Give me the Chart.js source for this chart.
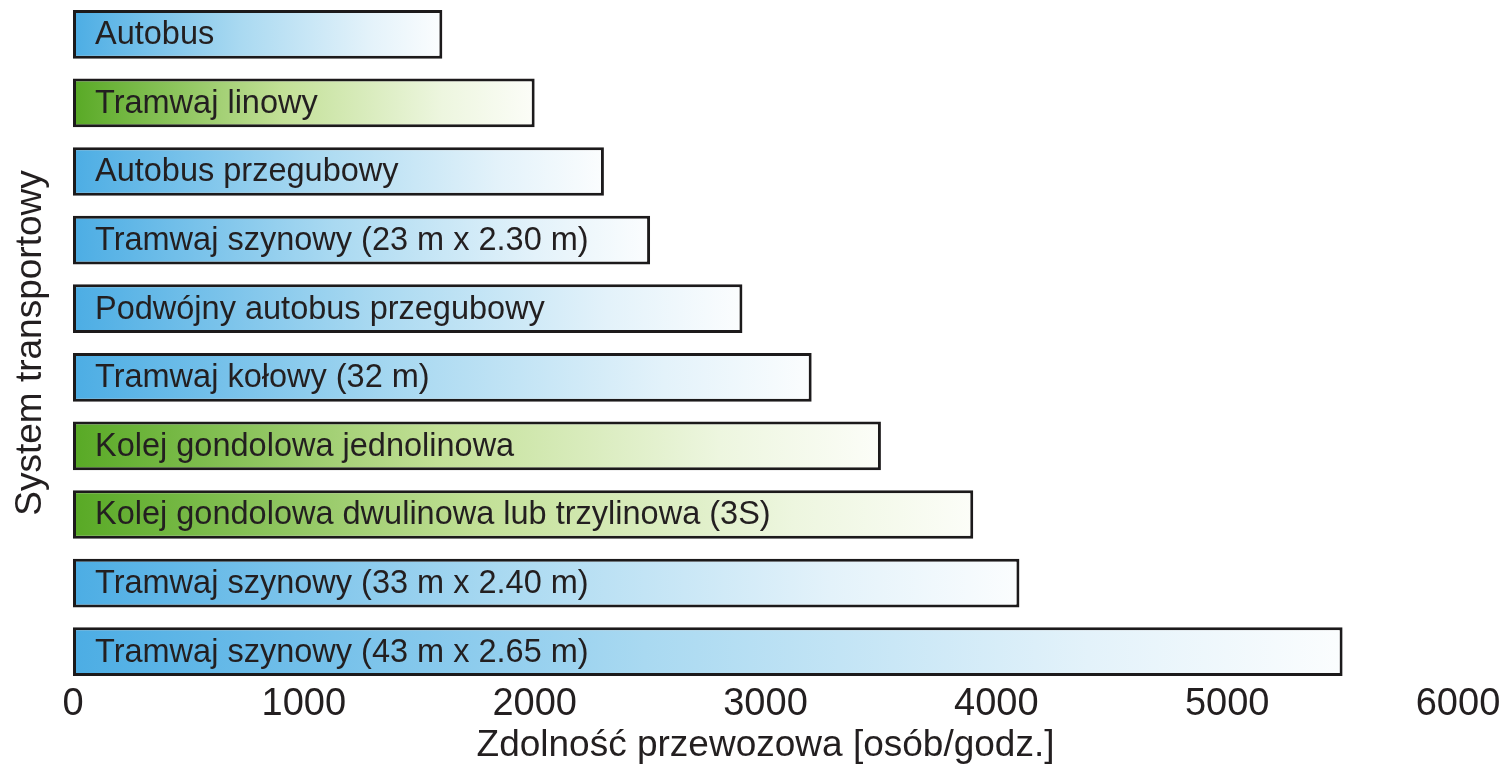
<!DOCTYPE html>
<html>
<head>
<meta charset="utf-8">
<script src="https://cdn.jsdelivr.net/npm/chart.js@4/dist/chart.umd.min.js"></script>
<style>
  html, body { margin: 0; padding: 0; background: #fff; }
  #wrap { width: 1511px; height: 764px; position: relative; }
</style>
</head>
<body>
<div id="wrap"><canvas id="capacityChart"></canvas></div>
<script>
const systems = [
  "Autobus",
  "Tramwaj linowy",
  "Autobus przegubowy",
  "Tramwaj szynowy (23 m x 2.30 m)",
  "Podwójny autobus przegubowy",
  "Tramwaj kołowy (32 m)",
  "Kolej gondolowa jednolinowa",
  "Kolej gondolowa dwulinowa lub trzylinowa (3S)",
  "Tramwaj szynowy (33 m x 2.40 m)",
  "Tramwaj szynowy (43 m x 2.65 m)"
];
const capacity = [1600, 2000, 2300, 2500, 2900, 3200, 3500, 3900, 4100, 5500];
// "cable" bars are green, the rest blue
const kind = ["road", "cable", "road", "road", "road", "road", "cable", "cable", "road", "road"];
const xTicks = [0, 1000, 2000, 3000, 4000, 5000, 6000];

const gradStops = {
  road: ["#4cade4", "#a9d9f1", "#e3f2fa", "#fbfdfe"],
  cable: ["#58a925", "#c2e096", "#edf6df", "#fcfdf8"]
};

const font = "'Liberation Sans', Arial, sans-serif";

const barLabels = {
  id: "barLabels",
  afterDatasetsDraw(chart) {
    const c = chart.ctx;
    const meta = chart.getDatasetMeta(0);
    c.save();
    c.font = "32.5px " + font;
    c.fillStyle = "#231f20";
    c.textBaseline = "middle";
    c.textAlign = "left";
    meta.data.forEach((bar, i) => {
      c.fillText(systems[i], bar.base + 22, bar.y + 1);
    });
    c.restore();
  }
};

const ctx = document.getElementById("capacityChart");

const capacityChart = new Chart(ctx, {
  type: "bar",
  data: {
    labels: systems,
    datasets: [
      {
        data: capacity,
        backgroundColor: context => {
          const chart = context.chart;
          if (!chart.chartArea || context.raw === undefined) {
            return "#cccccc";
          }
          const x0 = chart.scales.x.getPixelForValue(0);
          const x1 = chart.scales.x.getPixelForValue(context.raw);
          const g = chart.ctx.createLinearGradient(x0, 0, x1, 0);
          const s = gradStops[kind[context.dataIndex]];
          g.addColorStop(0, s[0]);
          g.addColorStop(0.45, s[1]);
          g.addColorStop(0.8, s[2]);
          g.addColorStop(1, s[3]);
          return g;
        },
        borderColor: "#1c1a1b",
        borderWidth: 3,
        borderSkipped: false,
        barPercentage: 0.71,
        categoryPercentage: 1
      }
    ]
  },
  options: {
    indexAxis: "y",
    responsive: true,
    maintainAspectRatio: false,
    animation: false,
    layout: {
      padding: {
        left: 8,
        right: 53,
        top: -2,
        bottom: 0
      }
    },
    plugins: {
      legend: { display: false },
      tooltip: { enabled: false }
    },
    scales: {
      x: {
        min: xTicks[0],
        max: xTicks[xTicks.length - 1],
        afterBuildTicks: axis => {
          axis.ticks = xTicks.map(v => ({ value: v }));
        },
        grid: { display: false, drawTicks: false },
        border: { display: false },
        ticks: {
          color: "#231f20",
          padding: 0,
          maxRotation: 0,
          callback: value => String(value),
          font: { family: font, size: 38, lineHeight: 1 }
        },
        title: {
          display: true,
          text: "Zdolność przewozowa [osób/godz.]",
          color: "#231f20",
          padding: { top: 3, bottom: 0 },
          font: { family: font, size: 37, lineHeight: 1 }
        }
      },
      y: {
        grid: { display: false, drawTicks: false },
        border: { display: false },
        ticks: { display: false },
        title: {
          display: true,
          text: "System transportowy",
          color: "#231f20",
          padding: { top: 4, bottom: 24 },
          font: { family: font, size: 37, lineHeight: 1 }
        }
      }
    }
  },
  plugins: [barLabels]
});
</script>
</body>
</html>
